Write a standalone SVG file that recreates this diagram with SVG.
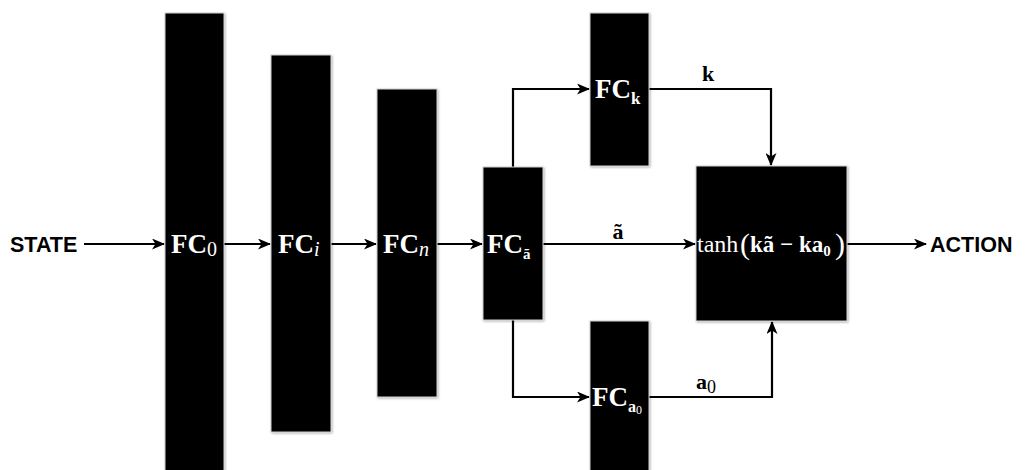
<svg xmlns="http://www.w3.org/2000/svg" width="1025" height="470" viewBox="0 0 1025 470">
<style>
.box{fill:#000;stroke:#d0d0d0;stroke-width:1;filter:url(#sh)}
.lbl{font-family:"Liberation Serif",serif;font-weight:bold;font-size:27px;fill:#fff}
.eq{font-family:"Liberation Serif",serif;font-weight:bold;font-size:23px;fill:#fff}
.rm{font-weight:normal}
.it{font-weight:normal;font-style:italic}
.edge{fill:none;stroke:#000;stroke-width:2.2}
.elbl{font-family:"Liberation Serif",serif;font-weight:bold;font-size:22px;fill:#000}
.io{font-family:"Liberation Sans",Arial,sans-serif;font-weight:bold;font-size:21.5px;fill:#000}
</style>
<defs>
<filter id="sh" x="-10%" y="-10%" width="120%" height="120%">
<feDropShadow dx="1" dy="1" stdDeviation="1" flood-color="#000" flood-opacity="0.3"/>
</filter>
<marker id="ah" markerWidth="13" markerHeight="11" refX="12" refY="5.5" orient="auto" markerUnits="userSpaceOnUse">
<path d="M0,0 L13,5.5 L0,11 L3.5,5.5 z" fill="#000"/>
</marker>
</defs>
<rect width="1025" height="470" fill="#fff"/>
<g id="connectors">
<path class="edge" d="M84,244 H164" marker-end="url(#ah)"/>
<path class="edge" d="M224,244 H270" marker-end="url(#ah)"/>
<path class="edge" d="M331,244 H376" marker-end="url(#ah)"/>
<path class="edge" d="M437,244 H482" marker-end="url(#ah)"/>
<path class="edge" d="M543,244 H695" marker-end="url(#ah)"/>
<path class="edge" d="M513,167 V89 H589" marker-end="url(#ah)"/>
<path class="edge" d="M513,320 V397 H589" marker-end="url(#ah)"/>
<path class="edge" d="M649,89 H771 V165" marker-end="url(#ah)"/>
<path class="edge" d="M649,397 H772 V322" marker-end="url(#ah)"/>
<path class="edge" d="M847,244 H926" marker-end="url(#ah)"/>
<text class="elbl" x="708" y="81" text-anchor="middle">k</text>
<text class="elbl" x="618" y="239" text-anchor="middle">ã</text>
<text class="elbl" x="696" y="389">a<tspan class="rm" font-size="18" dy="4">0</tspan></text>
</g>
<g id="state"><text class="io" x="10" y="252">STATE</text></g>
<g id="action"><text class="io" x="930" y="252">ACTION</text></g>
<g id="fc0">
<rect class="box" x="165" y="13" width="59" height="470"/>
<text class="lbl" x="171" y="253">FC<tspan class="rm" font-size="20" dy="3">0</tspan></text>
</g>
<g id="fci">
<rect class="box" x="271" y="55" width="60" height="377"/>
<text class="lbl" x="278" y="253">FC<tspan class="it" font-size="20" dy="3">i</tspan></text>
</g>
<g id="fcn">
<rect class="box" x="377" y="89" width="60" height="308"/>
<text class="lbl" x="383" y="253">FC<tspan class="it" font-size="20" dy="3">n</tspan></text>
</g>
<g id="fca">
<rect class="box" x="483" y="167" width="60" height="153"/>
<text class="lbl" x="487" y="253">FC<tspan font-size="15" dy="6">ã</tspan></text>
</g>
<g id="fck">
<rect class="box" x="590" y="13" width="59" height="153"/>
<text class="lbl" x="595" y="98">FC<tspan font-size="17" dy="6">k</tspan></text>
</g>
<g id="fca0">
<rect class="box" x="590" y="321" width="59" height="160"/>
<text class="lbl" x="592" y="406">FC<tspan font-size="16" dy="6">a</tspan><tspan class="rm" font-size="12" dy="2">0</tspan></text>
</g>
<g id="tanh">
<rect class="box" x="696" y="166" width="151" height="155"/>
<text class="eq" y="252"><tspan class="rm" x="697" font-size="24">tanh</tspan><tspan class="rm" x="740" font-size="30" dy="2">(</tspan><tspan x="750" dy="-2">kã − ka</tspan><tspan font-size="15" dy="4">0</tspan><tspan class="rm" x="835" font-size="30" dy="-2">)</tspan></text>
</g>
</svg>
